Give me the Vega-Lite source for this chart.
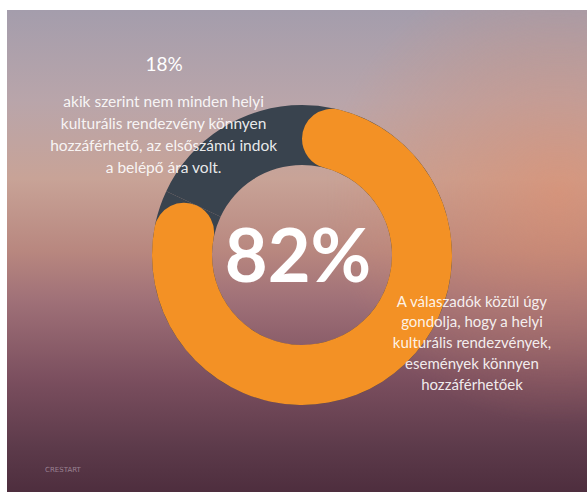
{
  "$schema": "https://vega.github.io/schema/vega-lite/v6.json",
  "width": 580,
  "height": 482,
  "autosize": {"type": "none"},
  "padding": {"left": 7, "top": 10, "right": 0, "bottom": 0},
  "background": "#ffffff",
  "config": {"view": {"stroke": null}},
  "data": {
    "values": [
      {"cat": "Könnyen hozzáférhető", "value": 82, "pct": "82%", "desc": "A válaszadók közül úgy\ngondolja, hogy a helyi\nkulturális rendezvények,\nesemények könnyen\nhozzáférhetőek"},
      {"cat": "Nem könnyen hozzáférhető", "value": 18, "pct": "18%", "desc": "akik szerint nem minden helyi\nkulturális rendezvény könnyen\nhozzáférhető, az elsőszámú indok\na belépő ára volt."}
    ]
  },
  "layer": [
    {
      "transform": [{"filter": "datum.cat === 'Könnyen hozzáférhető'"}],
      "mark": {
        "type": "rect",
        "fill": {
          "gradient": "linear", "x1": 0, "y1": 0, "x2": 0, "y2": 1,
          "stops": [
            {"offset": 0, "color": "#a49dac"},
            {"offset": 0.19, "color": "#b9a5aa"},
            {"offset": 0.35, "color": "#c8a397"},
            {"offset": 0.5, "color": "#b8877f"},
            {"offset": 0.6, "color": "#a07178"},
            {"offset": 0.77, "color": "#7a4e5e"},
            {"offset": 0.91, "color": "#5c3a4a"},
            {"offset": 1, "color": "#4e2e3e"}
          ]
        }
      },
      "encoding": {
        "x": {"value": 0},
        "x2": {"value": "width"},
        "y": {"value": 0},
        "y2": {"value": "height"}
      }
    },
    {
      "transform": [{"filter": "datum.cat === 'Könnyen hozzáférhető'"}],
      "mark": {
        "type": "rect",
        "fill": {
          "gradient": "radial", "x1": 0.95, "y1": 0.4, "r1": 0, "x2": 0.95, "y2": 0.4, "r2": 0.4,
          "stops": [
            {"offset": 0, "color": "rgba(225,140,105,0.55)"},
            {"offset": 0.6, "color": "rgba(215,140,110,0.25)"},
            {"offset": 1, "color": "rgba(215,140,110,0)"}
          ]
        }
      },
      "encoding": {
        "x": {"value": 0},
        "x2": {"value": "width"},
        "y": {"value": 0},
        "y2": {"value": "height"}
      }
    },
    {
      "mark": {"type": "arc", "outerRadius": 150, "innerRadius": 90, "xOffset": 5, "yOffset": 4},
      "encoding": {
        "theta": {"field": "value", "type": "quantitative", "stack": true},
        "order": {"field": "cat", "sort": "ascending"},
        "color": {"value": "#39434e"}
      }
    },
    {
      "mark": {"type": "arc", "outerRadius": 150, "innerRadius": 90, "cornerRadius": 30, "xOffset": 5, "yOffset": 4},
      "encoding": {
        "theta": {"field": "value", "type": "quantitative", "stack": true},
        "order": {"field": "cat", "sort": "ascending"},
        "color": {"condition": {"test": "datum.cat === 'Könnyen hozzáférhető'", "value": "#f39125"}, "value": "transparent"}
      }
    },
    {
      "mark": {"type": "text", "radius": 235, "xOffset": 5, "yOffset": 4, "dx": -12, "dy": 8, "font": "Lato", "fontSize": 19, "fill": "#ffffff", "align": "center", "baseline": "middle"},
      "encoding": {
        "theta": {"field": "value", "type": "quantitative", "stack": true},
        "order": {"field": "cat", "sort": "ascending"},
        "text": {"condition": {"test": "datum.cat === 'Nem könnyen hozzáférhető'", "field": "pct"}, "value": ""}
      }
    },
    {
      "mark": {"type": "text", "radius": 150, "xOffset": 5, "yOffset": 4, "dx": -58, "dy": -26, "font": "Lato", "fontSize": 15.5, "lineHeight": 22, "lineBreak": "\n", "fill": "#ffffff", "fillOpacity": 0.9, "align": "center", "baseline": "middle"},
      "encoding": {
        "theta": {"field": "value", "type": "quantitative", "stack": true},
        "order": {"field": "cat", "sort": "ascending"},
        "text": {"condition": {"test": "datum.cat === 'Nem könnyen hozzáférhető'", "field": "desc"}, "value": ""}
      }
    },
    {
      "mark": {"type": "text", "radius": 194, "xOffset": 5, "yOffset": 4, "dx": 66, "dy": -117, "font": "Lato", "fontSize": 15, "lineHeight": 20.7, "lineBreak": "\n", "fill": "#ffffff", "fillOpacity": 0.9, "align": "center", "baseline": "middle"},
      "encoding": {
        "theta": {"field": "value", "type": "quantitative", "stack": true},
        "order": {"field": "cat", "sort": "ascending"},
        "text": {"condition": {"test": "datum.cat === 'Könnyen hozzáférhető'", "field": "desc"}, "value": ""}
      }
    },
    {
      "transform": [{"filter": "datum.cat === 'Könnyen hozzáférhető'"}],
      "mark": {"type": "text", "dx": 1, "dy": 31, "font": "Lato", "fontWeight": "bold", "fontSize": 74, "fill": "#ffffff", "align": "center", "baseline": "alphabetic"},
      "encoding": {"text": {"field": "pct"}}
    },
    {
      "transform": [{"filter": "datum.cat === 'Könnyen hozzáférhető'"}],
      "mark": {"type": "text", "dx": -234, "dy": 219, "font": "DejaVu Sans", "fontSize": 7, "letterSpacing": 3, "fill": "#c8b8c8", "fillOpacity": 0.6, "align": "center", "baseline": "middle", "text": "CRESTART"},
      "encoding": {}
    }
  ]
}
